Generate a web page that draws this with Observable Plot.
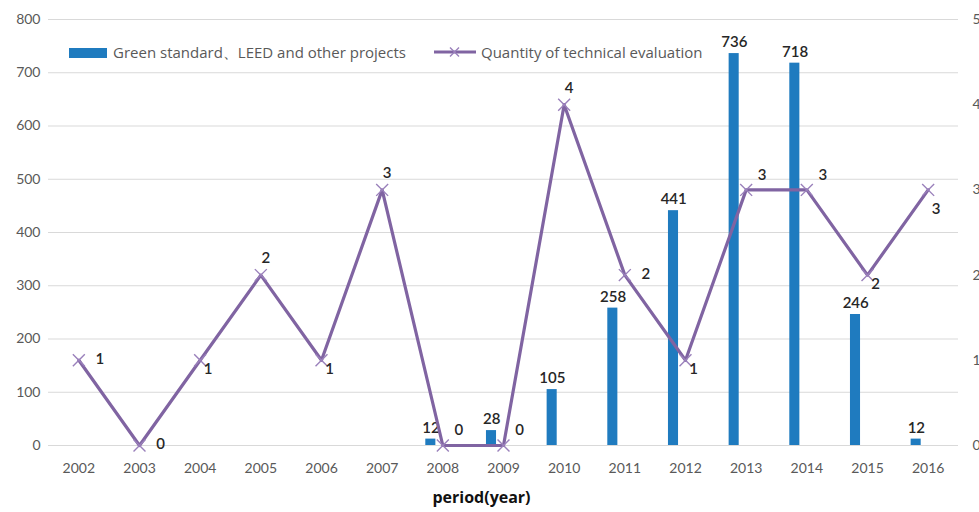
<!DOCTYPE html>
<html>
<head>
<meta charset="utf-8">
<script src="https://cdn.jsdelivr.net/npm/d3@7"></script>
<script src="https://cdn.jsdelivr.net/npm/@observablehq/plot@0.6"></script>
<style>
  html, body { margin: 0; padding: 0; background: #fff; overflow: hidden; }
  #wrap { position: relative; width: 979px; height: 512px; font-family: Lato, "Open Sans", sans-serif; }
  .leg { position: absolute; top: 42px; font-family: "Open Sans", Lato, sans-serif; font-size: 15px; color: #595959; display: flex; align-items: center; white-space: nowrap; }
  .leg svg { display: block; }
</style>
</head>
<body>
<div id="wrap">
  <div id="chart"></div>
  <div id="leg1" class="leg" style="left:69px"></div>
  <div id="leg2" class="leg" style="left:434px"></div>
</div>
<script>
// ---- data ----
const years = ["2002","2003","2004","2005","2006","2007","2008","2009","2010","2011","2012","2013","2014","2015","2016"];
const projects = [0, 0, 0, 0, 0, 0, 12, 28, 105, 258, 441, 736, 718, 246, 12];
const evaluations = [1, 0, 1, 2, 1, 3, 0, 0, 4, 2, 1, 3, 3, 2, 3];
const leftTicks = [0, 100, 200, 300, 400, 500, 600, 700, 800];
const rightTicks = [0, 1, 2, 3, 4, 5];
const seriesNames = ["Green standard\u3001LEED and other projects", "Quantity of technical evaluation"];
const xTitle = "period(year)";

// ---- styles ----
const BLUE = "#1f7bbf";
const PURPLE = "#8064a2";
const ratio = 800 / 5; // right axis -> left axis units

const rows = years.map((y, i) => ({year: y, projects: projects[i], evals: evaluations[i], evalsScaled: evaluations[i] * ratio}));

// label placement for the line's value labels (style only)
const place = {
  "2002": "right", "2003": "right", "2004": "below", "2005": "above", "2006": "below",
  "2007": "above", "2008": "aboveRight", "2009": "aboveRight", "2010": "above", "2011": "right",
  "2012": "below", "2013": "aboveRight", "2014": "aboveRight", "2015": "below", "2016": "belowLow"
};
const offsets = {
  right: {dx: 21, dy: -1},
  above: {dx: 5, dy: -17},
  aboveRight: {dx: 16, dy: -15},
  below: {dx: 8, dy: 9},
  belowLow: {dx: 8, dy: 19}
};

const lineLabelMarks = Object.entries(offsets).map(([k, o]) =>
  Plot.text(rows.filter(d => place[d.year] === k), {
    x: "year", y: "evalsScaled", text: d => String(d.evals),
    dx: o.dx, dy: o.dy, fill: "#262626", fontSize: 15, fontWeight: 600
  })
);

const chart = Plot.plot({
  width: 979,
  height: 512,
  marginLeft: 48,
  marginRight: 21,
  marginTop: 19,
  marginBottom: 67,
  style: {fontFamily: "Lato, 'Open Sans', sans-serif", fontSize: "14px", color: "#595959", background: "white", overflow: "visible"},
  x: {type: "band", domain: years, padding: 0, round: false, label: null},
  y: {domain: [0, 800], label: null},
  marks: [
    Plot.gridY(leftTicks, {stroke: "#d9d9d9", strokeOpacity: 1, strokeWidth: 1}),
    Plot.axisY(leftTicks, {anchor: "left", tickSize: 0, tickPadding: 8, label: null, fill: "#595959", fontSize: 14}),
    Plot.axisY(rightTicks.map(v => v * ratio), {anchor: "right", tickSize: 0, tickPadding: 14, label: null, tickFormat: d => String(d / ratio), fill: "#595959", fontSize: 14}),
    Plot.axisX(years, {tickSize: 0, tickPadding: 18, label: null, fill: "#595959", fontSize: 14}),
    Plot.barY(rows, {x: "year", y: "projects", fill: BLUE, insetLeft: 13.3, insetRight: 37.3}),
    Plot.text(rows.filter(d => d.projects > 0), {
      x: "year", y: "projects", text: d => String(d.projects),
      dx: -11.8, dy: -11, fill: "#262626", fontSize: 15, fontWeight: 600
    }),
    Plot.line(rows, {x: "year", y: "evalsScaled", stroke: PURPLE, strokeWidth: 3.2, strokeLinejoin: "round"}),
    Plot.dot(rows, {x: "year", y: "evalsScaled", symbol: "times", r: 5.5, stroke: "#9a80bb", strokeWidth: 1.4}),
    ...lineLabelMarks,
    Plot.text([xTitle], {frameAnchor: "bottom", dx: -22, dy: 57, fill: "#111", fontSize: 16, fontWeight: 700, fontFamily: "'Open Sans', Lato, sans-serif"})
  ]
});
document.getElementById("chart").appendChild(chart);

// ---- legend ----
document.getElementById("leg1").innerHTML = `
    <svg width="38" height="10"><rect x="0" y="0" width="38" height="10" fill="${BLUE}"/></svg>
    <span style="margin-left:6px">${seriesNames[0]}</span>`;
document.getElementById("leg2").innerHTML = `
    <svg width="42" height="14"><line x1="0" y1="7" x2="42" y2="7" stroke="${PURPLE}" stroke-width="3.2"/>
      <path d="M16,2.5L25,11.5M25,2.5L16,11.5" stroke="#9a80bb" stroke-width="1.4"/></svg>
    <span style="margin-left:5px">${seriesNames[1]}</span>`;
</script>
</body>
</html>
